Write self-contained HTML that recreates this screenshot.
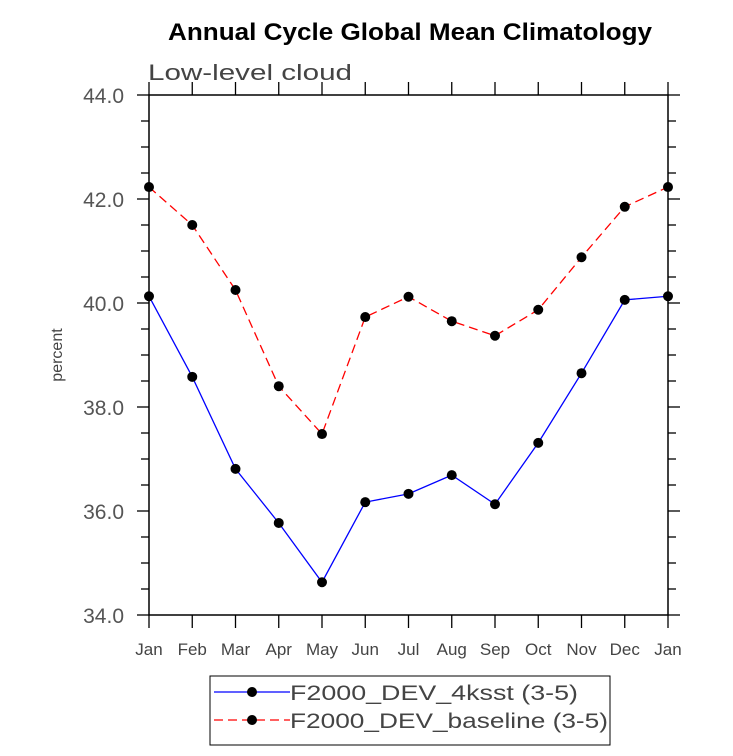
<!DOCTYPE html>
<html><head><meta charset="utf-8"><style>
body{margin:0;background:#fff}
svg text{font-family:"Liberation Sans",sans-serif}
</style></head><body>
<svg id="c" width="733" height="751" xmlns="http://www.w3.org/2000/svg">
<text x="168" y="40" font-size="24" font-weight="bold" textLength="484" lengthAdjust="spacingAndGlyphs">Annual Cycle Global Mean Climatology</text>
<text x="148" y="80" font-size="22" fill="#444" textLength="204" lengthAdjust="spacingAndGlyphs">Low-level cloud</text>
<text transform="translate(62,355) rotate(-90)" font-size="16" fill="#444" text-anchor="middle">percent</text>
<rect x="149" y="95" width="519" height="520" fill="none" stroke="#000" stroke-width="1.5"/>
<g id="axes"></g>
<g id="series"></g>
<rect x="210" y="676" width="400" height="69" fill="none" stroke="#000"/>
<g>
<line x1="214" y1="692" x2="290" y2="692" stroke="#00f" stroke-width="1.2"/><circle cx="252" cy="692" r="5"/>
<text x="290" y="700" font-size="21" fill="#444" textLength="288" lengthAdjust="spacingAndGlyphs">F2000_DEV_4ksst (3-5)</text></g>
<g>
<line x1="214" y1="720" x2="290" y2="720" stroke="#f00" stroke-width="1.2" stroke-dasharray="9,5"/><circle cx="252" cy="720" r="5"/>
<text x="290" y="728" font-size="21" fill="#444" textLength="318" lengthAdjust="spacingAndGlyphs">F2000_DEV_baseline (3-5)</text></g>
</svg>
<script>
const months=["Jan","Feb","Mar","Apr","May","Jun","Jul","Aug","Sep","Oct","Nov","Dec","Jan"];
const yTicks=[34,36,38,40,42,44];
const ksst=[40.13,38.58,36.81,35.77,34.63,36.17,36.33,36.69,36.13,37.31,38.65,40.06,40.13];
const baseline=[42.23,41.5,40.25,38.4,37.48,39.73,40.12,39.65,39.37,39.87,40.88,41.85,42.23];
const NS="http://www.w3.org/2000/svg";
const X=i=>149+i*(519/12), Y=v=>615-(v-34)*52;
function mk(t,a,p){const e=document.createElementNS(NS,t);for(const k in a)e.setAttribute(k,a[k]);p.appendChild(e);return e;}
const ax=document.getElementById('axes');
for(let v=34;v<=44.001;v+=0.5){const y=Y(v),maj=Math.abs(v-Math.round(v/2)*2)<1e-6,l=maj?12:8;
 mk('line',{x1:149-l,y1:y,x2:149,y2:y,stroke:'#000','stroke-width':1.3},ax);
 mk('line',{x1:668,y1:y,x2:668+l,y2:y,stroke:'#000','stroke-width':1.3},ax);}
yTicks.forEach(v=>{const t=mk('text',{x:124,y:Y(v)+8,'font-size':21,fill:'#555','text-anchor':'end'},ax);t.textContent=v.toFixed(1);

});
months.forEach((m,i)=>{const x=X(i);
 mk('line',{x1:x,y1:615,x2:x,y2:628,stroke:'#000','stroke-width':1.3},ax);
 mk('line',{x1:x,y1:82,x2:x,y2:95,stroke:'#000','stroke-width':1.3},ax);
 const t=mk('text',{x:x,y:655,'font-size':17,fill:'#444','text-anchor':'middle'},ax);t.textContent=m;
 
 });
const sg=document.getElementById('series');
function draw(vals,color,dash,name){
 const p=mk('polyline',{points:vals.map((v,i)=>X(i)+','+Y(v)).join(' '),fill:'none',stroke:color,'stroke-width':1.3,'stroke-dasharray':dash},sg);
 
 
 vals.forEach((v,i)=>{const c=mk('circle',{cx:X(i),cy:Y(v),r:5},sg);
 
 });}
draw(ksst,'#00f','none','ksst');
draw(baseline,'#f00','9,5','baseline');
</script>
</body></html>
